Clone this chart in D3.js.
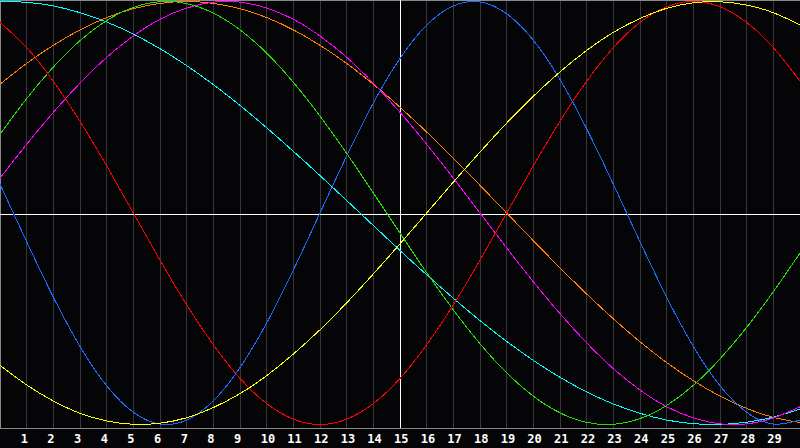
<!DOCTYPE html>
<html>
<head>
<meta charset="utf-8">
<script src="https://cdn.jsdelivr.net/npm/d3@7"></script>
<style>
  html, body { margin: 0; padding: 0; background: #050508; }
  svg { display: block; }
</style>
</head>
<body>
<div id="container"></div>
<script>
/* CONSTANTS AND GLOBALS */
const width = 800;
const height = 448;
const plotBottom = 428;

/* DATA (one value per day, day 0 .. 30) */
const days = d3.range(0, 31);
const dayLabels = d3.range(1, 30);

const physical = [0.136, -0.136, -0.398, -0.631, -0.817, -0.942, -0.998, -0.979, -0.888, -0.731, -0.520, -0.270, 0.000, 0.270, 0.520, 0.731, 0.888, 0.979, 0.998, 0.942, 0.817, 0.631, 0.398, 0.136, -0.136, -0.398, -0.631, -0.817, -0.942, -0.998, -0.979];
const emotional = [0.901, 0.782, 0.623, 0.434, 0.223, 0.000, -0.223, -0.434, -0.623, -0.782, -0.901, -0.975, -1.000, -0.975, -0.901, -0.782, -0.623, -0.434, -0.223, 0.000, 0.223, 0.434, 0.623, 0.782, 0.901, 0.975, 1.000, 0.975, 0.901, 0.782, 0.623];
const intellectual = [0.372, 0.541, 0.690, 0.815, 0.910, 0.972, 0.999, 0.990, 0.945, 0.866, 0.756, 0.618, 0.458, 0.282, 0.095, -0.095, -0.282, -0.458, -0.618, -0.756, -0.866, -0.945, -0.990, -0.999, -0.972, -0.910, -0.815, -0.690, -0.541, -0.372, -0.189];
const intuitive = [0.165, 0.325, 0.476, 0.614, 0.736, 0.837, 0.916, 0.969, 0.997, 0.997, 0.969, 0.916, 0.837, 0.736, 0.614, 0.476, 0.325, 0.165, 0.000, -0.165, -0.325, -0.476, -0.614, -0.736, -0.837, -0.916, -0.969, -0.997, -0.997, -0.969, -0.916];
const aesthetic = [-0.720, -0.813, -0.889, -0.947, -0.983, -0.999, -0.994, -0.968, -0.920, -0.854, -0.769, -0.667, -0.552, -0.425, -0.288, -0.146, 0.000, 0.146, 0.288, 0.425, 0.552, 0.667, 0.769, 0.854, 0.920, 0.968, 0.994, 0.999, 0.983, 0.947, 0.889];
const awareness = [0.609, 0.707, 0.793, 0.866, 0.924, 0.966, 0.991, 1.000, 0.991, 0.966, 0.924, 0.866, 0.793, 0.707, 0.609, 0.500, 0.383, 0.259, 0.131, 0.000, -0.131, -0.259, -0.383, -0.500, -0.609, -0.707, -0.793, -0.866, -0.924, -0.966, -0.991];
const spiritual = [1.000, 0.996, 0.979, 0.947, 0.903, 0.846, 0.777, 0.697, 0.607, 0.509, 0.403, 0.292, 0.177, 0.059, -0.059, -0.177, -0.292, -0.403, -0.509, -0.607, -0.697, -0.777, -0.846, -0.903, -0.947, -0.979, -0.996, -1.000, -0.989, -0.965, -0.927];

const series = [
  { name: "spiritual", values: spiritual, color: "#00ffff" },
  { name: "awareness", values: awareness, color: "#ff8000" },
  { name: "intuitive", values: intuitive, color: "#ff00ff" },
  { name: "intellectual", values: intellectual, color: "#22e000" },
  { name: "emotional", values: emotional, color: "#ff0000" },
  { name: "physical", values: physical, color: "#1a6cff" },
  { name: "aesthetic", values: aesthetic, color: "#ffff00" }
];

/* SCALES */
const xScale = d3.scaleLinear().domain([0, 30]).range([0, width]);
const yScale = d3.scaleLinear().domain([-1, 1]).range([424.5, 1.5]);

const svg = d3.select("#container")
  .append("svg")
  .attr("width", width)
  .attr("height", height)
  .style("background", "#050508");

// day grid
svg.append("g")
  .selectAll("line")
  .data(dayLabels)
  .join("line")
  .attr("x1", d => Math.floor(xScale(d)) + 0.5)
  .attr("x2", d => Math.floor(xScale(d)) + 0.5)
  .attr("y1", 0)
  .attr("y2", plotBottom)
  .attr("stroke", d => d === 15 ? "none" : "#38383c")
  .attr("shape-rendering", "crispEdges");

// frame
svg.append("path")
  .attr("d", `M0.5,${plotBottom + 0.5}V0.5H${width}M0,${plotBottom + 0.5}H${width}`)
  .attr("fill", "none")
  .attr("stroke", "#8a8a8a")
  .attr("shape-rendering", "crispEdges");

// crosshair
svg.append("line")
  .attr("x1", 0).attr("x2", width)
  .attr("y1", 214.5).attr("y2", 214.5)
  .attr("stroke", "#ffffff")
  .attr("shape-rendering", "crispEdges");
svg.append("line")
  .attr("x1", xScale(15) + 0.5).attr("x2", xScale(15) + 0.5)
  .attr("y1", 0).attr("y2", plotBottom)
  .attr("stroke", "#ffffff")
  .attr("shape-rendering", "crispEdges");

// curves
const line = d3.line()
  .x((d, i) => xScale(days[i]))
  .y(d => yScale(d))
  .curve(d3.curveNatural);

svg.append("g")
  .selectAll("path")
  .data(series)
  .join("path")
  .attr("d", d => line(d.values))
  .attr("fill", "none")
  .attr("stroke", d => d.color)
  .attr("stroke-width", 1)
  .attr("shape-rendering", "crispEdges");

// day labels
svg.append("g")
  .selectAll("text")
  .data(dayLabels)
  .join("text")
  .attr("x", d => xScale(d) - 6)
  .attr("y", 443)
  .attr("fill", "#ffffff")
  .attr("font-family", "'DejaVu Sans Mono', monospace")
  .attr("font-weight", "bold")
  .attr("font-size", 12)
  .text(d => d);
</script>
</body>
</html>
